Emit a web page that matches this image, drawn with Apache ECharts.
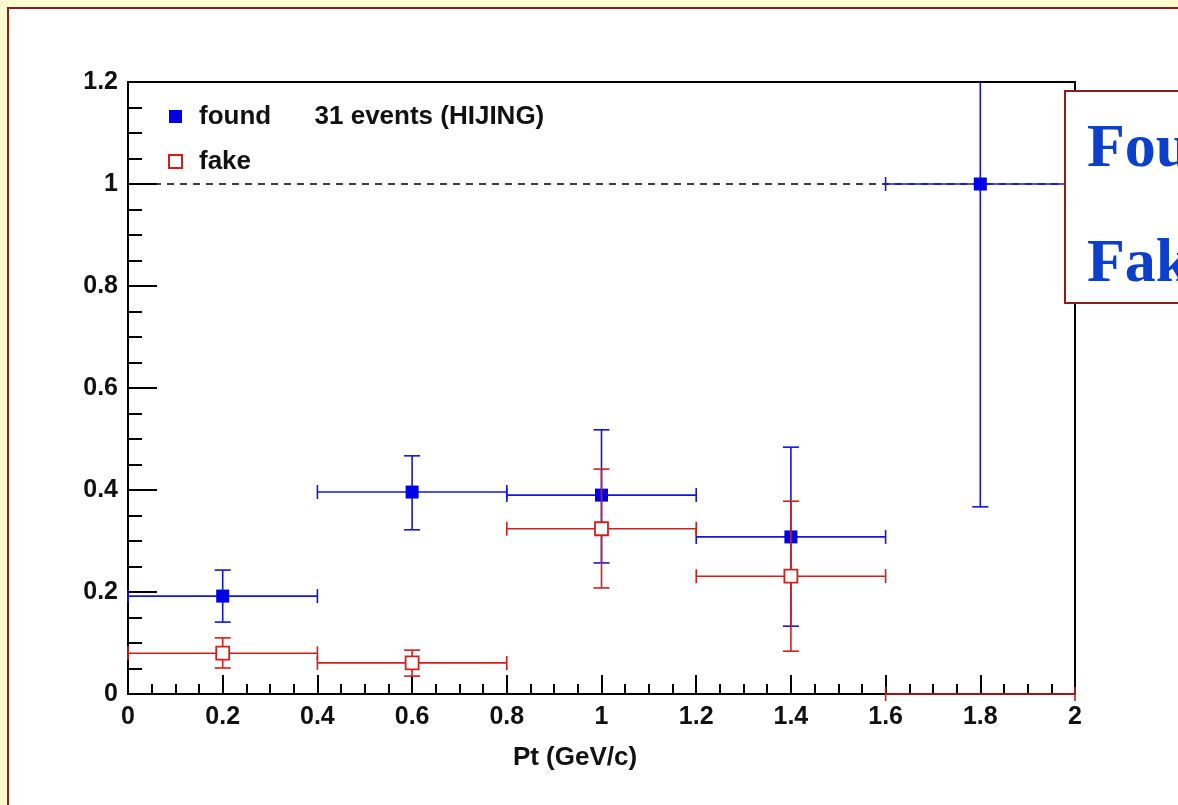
<!DOCTYPE html>
<html>
<head>
<meta charset="utf-8">
<script src="https://cdn.jsdelivr.net/npm/echarts@6/dist/echarts.min.js"></script>
<style>
  html, body { margin: 0; padding: 0; background: #fdfbcf; overflow: hidden; }
  #frame { position: absolute; left: 7px; top: 7px; width: 1200px; height: 830px;
           border-left: 2px solid #8e1c1c; border-top: 2px solid #8e1c1c; background: #fff; }
  #chart { width: 1169px; height: 796px; }
</style>
</head>
<body>
<div id="frame"><div id="chart"></div></div>
<script>
// Pt bins (GeV/c)
var binEdges = [0, 0.4, 0.8, 1.2, 1.6, 2.0];
var binCenters = [0.2, 0.6, 1.0, 1.4, 1.8];
// found efficiency with error range
var foundEff = [0.192, 0.396, 0.390, 0.308, 1.0];
var foundLow = [0.141, 0.322, 0.257, 0.133, 0.367];
var foundHigh = [0.243, 0.467, 0.518, 0.484, 1.633];
// fake rate with error range
var fakeRate = [0.080, 0.061, 0.324, 0.231, 0];
var fakeLow = [0.051, 0.035, 0.208, 0.084, 0];
var fakeHigh = [0.110, 0.086, 0.441, 0.378, 0];

var yMax = 1.2;
var blue = "#1414dc";
var red = "#d41e1e";

function errData(val, lo, hi) {
  return binCenters.map(function (x, i) {
    return [x, val[i], binEdges[i], binEdges[i + 1], lo[i], Math.min(hi[i], yMax)];
  });
}
function markerData(val) {
  var out = [];
  binCenters.forEach(function (x, i) { if (val[i] > 0) out.push([x, val[i]]); });
  return out;
}

function errRender(color) {
  return function (params, api) {
    var x = api.value(0), y = api.value(1);
    var pL = api.coord([api.value(2), y]), pR = api.coord([api.value(3), y]);
    var pB = api.coord([x, api.value(4)]), pT = api.coord([x, api.value(5)]);
    var c = 7, cv = 8;
    var st = { stroke: color, lineWidth: 1.6 };
    var lines = [
      [pL, pR], [pB, pT],
      [[pL[0], pL[1] - c], [pL[0], pL[1] + c]],
      [[pR[0], pR[1] - c], [pR[0], pR[1] + c]]
    ];
    if (api.value(4) !== y) lines.push([[pB[0] - cv, pB[1]], [pB[0] + cv, pB[1]]]);
    if (api.value(5) !== y && api.value(5) < yMax) lines.push([[pT[0] - cv, pT[1]], [pT[0] + cv, pT[1]]]);
    return {
      type: "group",
      children: lines.map(function (l) {
        return { type: "line", shape: { x1: l[0][0], y1: l[0][1], x2: l[1][0], y2: l[1][1] }, style: st };
      })
    };
  };
}

var chart = echarts.init(document.getElementById("chart"));
var labelFont = { color: "#111", fontFamily: "Liberation Sans", fontWeight: "bold", fontSize: 25 };

chart.setOption({
  backgroundColor: "#fff",
  animation: false,
  grid: { left: 119, top: 73, right: 103, bottom: 111, show: true, borderColor: "#000", borderWidth: 2 },
  legend: {
    data: ["found", "fake"],
    orient: "vertical",
    left: 154, top: 88,
    itemWidth: 13, itemHeight: 13, itemGap: 16,
    formatter: function (n) { return n === "found" ? "found      31 events (HIJING)" : n; },
    textStyle: Object.assign({}, labelFont, { fontSize: 26, lineHeight: 29, padding: [0, 0, 0, 12] })
  },
  xAxis: {
    type: "value", min: 0, max: 2, interval: 0.2,
    splitLine: { show: false },
    axisLine: { onZero: false, lineStyle: { color: "#000", width: 2 } },
    axisTick: { inside: true, length: 19, lineStyle: { color: "#000", width: 2 } },
    minorTick: { show: true, splitNumber: 4, length: 10, lineStyle: { color: "#000", width: 2 } },
    axisLabel: Object.assign({ margin: 11 }, labelFont)
  },
  yAxis: {
    type: "value", min: 0, max: 1.2, interval: 0.2,
    splitLine: { show: false },
    axisLine: { lineStyle: { color: "#000", width: 2 } },
    axisTick: { inside: true, length: 29, lineStyle: { color: "#000", width: 2 } },
    minorTick: { show: true, splitNumber: 4, length: 14, lineStyle: { color: "#000", width: 2 } },
    axisLabel: Object.assign({ margin: 10 }, labelFont)
  },
  graphic: [
    { type: "text", x: 566, y: 749, style: { text: "Pt (GeV/c)", fill: "#111", font: "bold 26px 'Liberation Sans'", textAlign: "center", textVerticalAlign: "middle" } },
    { type: "rect", z: 100, shape: { x: 1056, y: 82, width: 200, height: 212 },
      style: { fill: "#fff", stroke: "#8e1c1c", lineWidth: 2 } },
    { type: "text", z: 101, x: 1078, y: 110, style: { text: "Found", fill: "#0b3fcc", font: "bold 62px 'Liberation Serif'" } },
    { type: "text", z: 101, x: 1078, y: 225, style: { text: "Fake", fill: "#0b3fcc", font: "bold 62px 'Liberation Serif'" } }
  ],
  series: [
    {
      type: "line", data: [[0, 1], [2, 1]], symbol: "none", z: 1, silent: true,
      lineStyle: { color: "#000", width: 1.6, type: [7, 6] }
    },
    { type: "custom", z: 12, clip: false, renderItem: errRender(blue), data: errData(foundEff, foundLow, foundHigh) },
    {
      name: "found", type: "scatter", z: 13, symbol: "rect", symbolSize: 13,
      itemStyle: { color: "#0000e6", opacity: 1 }, data: markerData(foundEff)
    },
    { type: "custom", z: 14, clip: false, renderItem: errRender(red), data: errData(fakeRate, fakeLow, fakeHigh) },
    {
      name: "fake", type: "scatter", z: 15, symbol: "rect", symbolSize: 13,
      itemStyle: { color: "#fff", borderColor: red, borderWidth: 1.8, opacity: 1 }, data: markerData(fakeRate)
    }
  ]
});
</script>
</body>
</html>
